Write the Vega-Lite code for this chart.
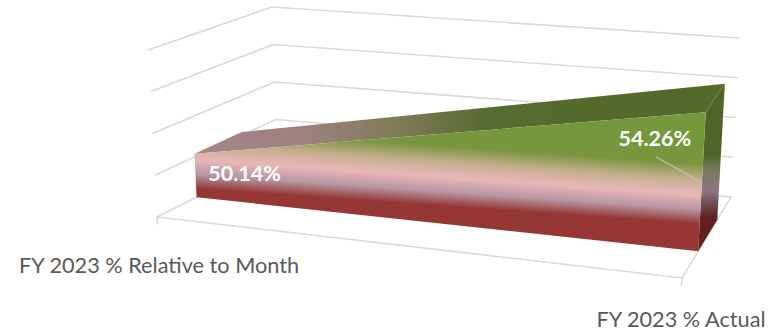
{
  "$schema": "https://vega.github.io/schema/vega-lite/v6.json",
  "width": 776,
  "height": 334,
  "padding": 0,
  "autosize": {"type": "none"},
  "background": "#ffffff",
  "config": {"view": {"stroke": null}},
  "data": {"values": [
    {"part": "grid", "id": "g1", "ord": 0, "c": 0, "d": 0, "value": 50},
    {"part": "grid", "id": "g1", "ord": 1, "c": 0, "d": 1, "value": 50},
    {"part": "grid", "id": "g1", "ord": 2, "c": 1, "d": 1, "value": 50},
    {"part": "grid", "id": "g2", "ord": 0, "c": 0, "d": 0, "value": 51.8},
    {"part": "grid", "id": "g2", "ord": 1, "c": 0, "d": 1, "value": 51.8},
    {"part": "grid", "id": "g2", "ord": 2, "c": 1, "d": 1, "value": 51.8},
    {"part": "grid", "id": "g3", "ord": 0, "c": 0, "d": 0, "value": 53.6},
    {"part": "grid", "id": "g3", "ord": 1, "c": 0, "d": 1, "value": 53.6},
    {"part": "grid", "id": "g3", "ord": 2, "c": 1, "d": 1, "value": 53.6},
    {"part": "grid", "id": "g4", "ord": 0, "c": 0, "d": 0, "value": 55.4},
    {"part": "grid", "id": "g4", "ord": 1, "c": 0, "d": 1, "value": 55.4},
    {"part": "grid", "id": "g4", "ord": 2, "c": 1, "d": 1, "value": 55.4},
    {"part": "grid", "id": "floor", "ord": 0, "c": 0, "d": 0, "value": 48.2},
    {"part": "grid", "id": "floor", "ord": 1, "c": 0, "d": 1, "value": 48.2},
    {"part": "grid", "id": "floor", "ord": 2, "c": 1, "d": 1, "value": 48.2},
    {"part": "grid", "id": "floor", "ord": 3, "c": 1, "d": 0, "value": 48.2},
    {"part": "grid", "id": "floor", "ord": 4, "c": 0, "d": 0, "value": 48.2},
    {"part": "grid", "id": "tick0", "ord": 0, "c": 0, "d": 0, "value": 48.2},
    {"part": "grid", "id": "tick0", "ord": 1, "c": 0, "d": 0, "value": 47.87},
    {"part": "grid", "id": "tick1", "ord": 0, "c": 1, "d": 0, "value": 48.2},
    {"part": "grid", "id": "tick1", "ord": 1, "c": 1, "d": 0, "value": 47.87},

    {"part": "top", "ord": 0, "c": 0, "d": 0.33, "value": 50.14},
    {"part": "top", "ord": 1, "c": 1, "d": 0.33, "value": 54.26},
    {"part": "top", "ord": 2, "c": 1, "d": 0.72, "value": 54.26},
    {"part": "top", "ord": 3, "c": 0, "d": 0.72, "value": 50.14},

    {"part": "side", "ord": 0, "c": 1, "d": 0.33, "value": 54.26},
    {"part": "side", "ord": 1, "c": 1, "d": 0.72, "value": 54.26},
    {"part": "side", "ord": 2, "c": 1, "d": 0.72, "value": 48.2},
    {"part": "side", "ord": 3, "c": 1, "d": 0.33, "value": 48.2},

    {"part": "front", "ord": 0, "c": 0, "d": 0.33, "value": 50.14},
    {"part": "front", "ord": 1, "c": 1, "d": 0.33, "value": 54.26},
    {"part": "front", "ord": 2, "c": 1, "d": 0.33, "value": 48.2},
    {"part": "front", "ord": 3, "c": 0, "d": 0.33, "value": 48.2},

    {"part": "leader", "ord": 0, "c": 0.908, "d": 0.33, "value": 52.1},
    {"part": "leader", "ord": 1, "c": 1, "d": 0.33, "value": 51.2},

    {"part": "valueLabel", "c": 0, "d": 0.33, "value": 50.14, "label": "50.14%"},
    {"part": "valueLabel", "c": 1, "d": 0.33, "value": 54.26, "label": "54.26%"},

    {"part": "category", "c": 0, "d": 0, "value": 48.2, "label": "FY 2023 % Relative to Month"},
    {"part": "category", "c": 1, "d": 0, "value": 48.2, "label": "FY 2023 % Actual"}
  ]},
  "transform": [
    {"calculate": "(datum.value - 48.2) / 7.2", "as": "t"},
    {"calculate": "(1-datum.c)*(1-datum.d)*157 + datum.c*(1-datum.d)*682 + (1-datum.c)*datum.d*277 + datum.c*datum.d*731", "as": "fx"},
    {"calculate": "(1-datum.c)*(1-datum.d)*217 + datum.c*(1-datum.d)*278 + (1-datum.c)*datum.d*157 + datum.c*datum.d*197", "as": "fy"},
    {"calculate": "(1-datum.c)*(1-datum.d)*148 + datum.c*(1-datum.d)*691 + (1-datum.c)*datum.d*272 + datum.c*datum.d*740", "as": "tx"},
    {"calculate": "(1-datum.c)*(1-datum.d)*50 + datum.c*(1-datum.d)*110 + (1-datum.c)*datum.d*7 + datum.c*datum.d*38", "as": "ty"},
    {"calculate": "datum.fx + (datum.tx - datum.fx) * datum.t", "as": "sx"},
    {"calculate": "datum.fy + (datum.ty - datum.fy) * datum.t", "as": "sy"}
  ],
  "encoding": {
    "x": {"field": "sx", "type": "quantitative", "axis": null, "scale": {"domain": [0, 776], "nice": false, "zero": false}},
    "y": {"field": "sy", "type": "quantitative", "axis": null, "scale": {"domain": [334, 0], "nice": false, "zero": false}}
  },
  "layer": [
    {
      "transform": [{"filter": "datum.part === 'grid'"}],
      "mark": {"type": "line", "stroke": "#d9d9d9", "strokeWidth": 1.6, "clip": false},
      "encoding": {"detail": {"field": "id"}, "order": {"field": "ord", "type": "quantitative"}}
    },
    {
      "transform": [{"filter": "datum.part === 'top'"}],
      "mark": {"type": "line", "strokeWidth": 0, "stroke": "#ffffff", "fill": {
        "gradient": "linear", "x1": 0, "y1": 0, "x2": 1, "y2": 0,
        "stops": [
          {"offset": 0, "color": "#a78589"},
          {"offset": 0.2, "color": "#9e8180"},
          {"offset": 0.38, "color": "#7f7c58"},
          {"offset": 0.55, "color": "#586b30"},
          {"offset": 1, "color": "#56692b"}
        ]
      }},
      "encoding": {"order": {"field": "ord", "type": "quantitative"}}
    },
    {
      "transform": [{"filter": "datum.part === 'side'"}],
      "mark": {"type": "line", "strokeWidth": 0, "stroke": "#ffffff", "fill": {
        "gradient": "linear", "x1": 0, "y1": 0, "x2": 0, "y2": 1,
        "stops": [
          {"offset": 0, "color": "#4f6426"},
          {"offset": 0.42, "color": "#4f6426"},
          {"offset": 0.52, "color": "#7a7a60"},
          {"offset": 0.64, "color": "#8b7585"},
          {"offset": 0.72, "color": "#6e4a52"},
          {"offset": 0.8, "color": "#5f201f"},
          {"offset": 1, "color": "#5f201f"}
        ]
      }},
      "encoding": {"order": {"field": "ord", "type": "quantitative"}}
    },
    {
      "transform": [{"filter": "datum.part === 'front'"}],
      "mark": {"type": "line", "strokeWidth": 0, "stroke": "#ffffff", "fill": {
        "gradient": "linear", "x1": 0, "y1": 0, "x2": -0.179, "y2": 0.696,
        "stops": [
          {"offset": 0, "color": "#76983c"},
          {"offset": 0.16, "color": "#79963e"},
          {"offset": 0.31, "color": "#c4ae8c"},
          {"offset": 0.46, "color": "#e8b6b8"},
          {"offset": 0.6, "color": "#b697a2"},
          {"offset": 0.74, "color": "#953735"},
          {"offset": 1, "color": "#953735"}
        ]
      }},
      "encoding": {"order": {"field": "ord", "type": "quantitative"}}
    },
    {
      "transform": [{"filter": "datum.part === 'leader'"}],
      "mark": {"type": "line", "stroke": "#bfbfbf", "strokeWidth": 1.2},
      "encoding": {"order": {"field": "ord", "type": "quantitative"}}
    },
    {
      "transform": [{"filter": "datum.part === 'valueLabel' && datum.c === 0"}],
      "mark": {"type": "text", "font": "Lato", "fontWeight": "bold", "fontSize": 21.5, "fill": "#ffffff", "dx": 50, "dy": 21},
      "encoding": {"text": {"field": "label"}}
    },
    {
      "transform": [{"filter": "datum.part === 'valueLabel' && datum.c === 1"}],
      "mark": {"type": "text", "font": "Lato", "fontWeight": "bold", "fontSize": 21.5, "fill": "#ffffff", "dx": -51, "dy": 28},
      "encoding": {"text": {"field": "label"}}
    },
    {
      "transform": [{"filter": "datum.part === 'category' && datum.c === 0"}],
      "mark": {"type": "text", "font": "Lato", "fontSize": 21.7, "fill": "#595959", "dx": 2, "dy": 49},
      "encoding": {"text": {"field": "label"}}
    },
    {
      "transform": [{"filter": "datum.part === 'category' && datum.c === 1"}],
      "mark": {"type": "text", "font": "Lato", "fontSize": 21.7, "fill": "#595959", "dx": -1, "dy": 41.5},
      "encoding": {"text": {"field": "label"}}
    }
  ]
}
